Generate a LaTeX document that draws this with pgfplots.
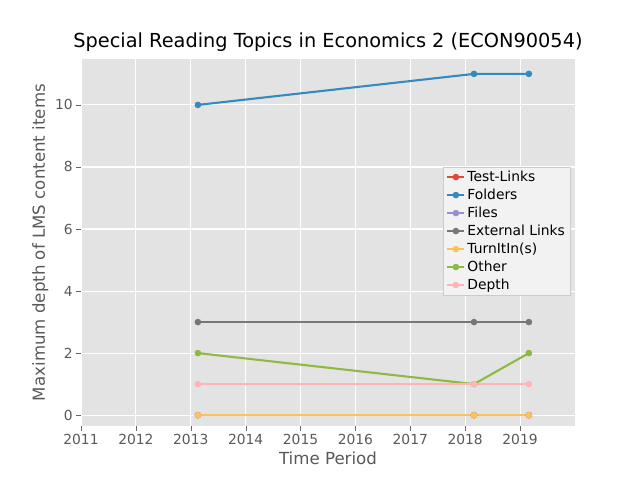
\documentclass[border=0pt]{standalone}
\usepackage{pgfplots}
\pgfplotsset{compat=1.18}
\usepackage{fontspec}
\setmainfont{DejaVu Sans}
\definecolor{c1}{HTML}{E24A33}
\definecolor{c2}{HTML}{348ABD}
\definecolor{c3}{HTML}{988ED5}
\definecolor{c4}{HTML}{777777}
\definecolor{c5}{HTML}{FBC15E}
\definecolor{c6}{HTML}{8EBA42}
\definecolor{c7}{HTML}{FFB5B8}
\begin{document}
\begin{tikzpicture}
\path[use as bounding box] (-81bp,-54bp) rectangle (559bp,426bp);
\begin{axis}[
 at={(0,0)}, anchor=south west, scale only axis,
 width=494bp, height=367bp,
 xmin=2011, xmax=2020, ymin=-0.35, ymax=11.48,
 xtick={2011,...,2019}, ytick={0,2,...,10},
 xtick pos=bottom, ytick pos=left,
 /pgf/number format/1000 sep={},
 /pgf/number format/assume math mode=true,
 axis background/.style={fill=black!11},
 axis line style={draw=none},
 grid=major, major grid style={white, line width=1.1pt},
 tick style={draw=black!60}, tick align=outside,
 major tick length=4.8bp,
 ticklabel style={font=\fontsize{13.9}{16}\selectfont, text=black!65},
 xlabel={Time Period}, ylabel={Maximum depth of LMS content items},
 label style={font=\fontsize{16.7}{19}\selectfont, text=black!65},
 title={Special Reading Topics in Economics 2 (ECON90054)},
 title style={font=\fontsize{19.4}{22}\selectfont, yshift=-2bp},
 legend style={at={(0.99,0.706)}, anchor=north east, fill=black!5, draw=black!20, font=\fontsize{13.9}{16}\selectfont, row sep=2pt},
 legend cell align=left,
 every axis plot/.append style={line width=2.1pt, mark=*, mark size=2.2pt},
]
\addplot[c1] coordinates {(2013.13,0) (2018.16,0) (2019.16,0)};
\addplot[c2] coordinates {(2013.13,10) (2018.16,11) (2019.16,11)};
\addplot[c3] coordinates {(2013.13,0) (2018.16,0) (2019.16,0)};
\addplot[c4] coordinates {(2013.13,3) (2018.16,3) (2019.16,3)};
\addplot[c5] coordinates {(2013.13,0) (2018.16,0) (2019.16,0)};
\addplot[c6] coordinates {(2013.13,2) (2018.16,1) (2019.16,2)};
\addplot[c7] coordinates {(2013.13,1) (2018.16,1) (2019.16,1)};
\legend{Test-Links,Folders,Files,External Links,TurnItIn(s),Other,Depth}
\end{axis}
\end{tikzpicture}
\end{document}
